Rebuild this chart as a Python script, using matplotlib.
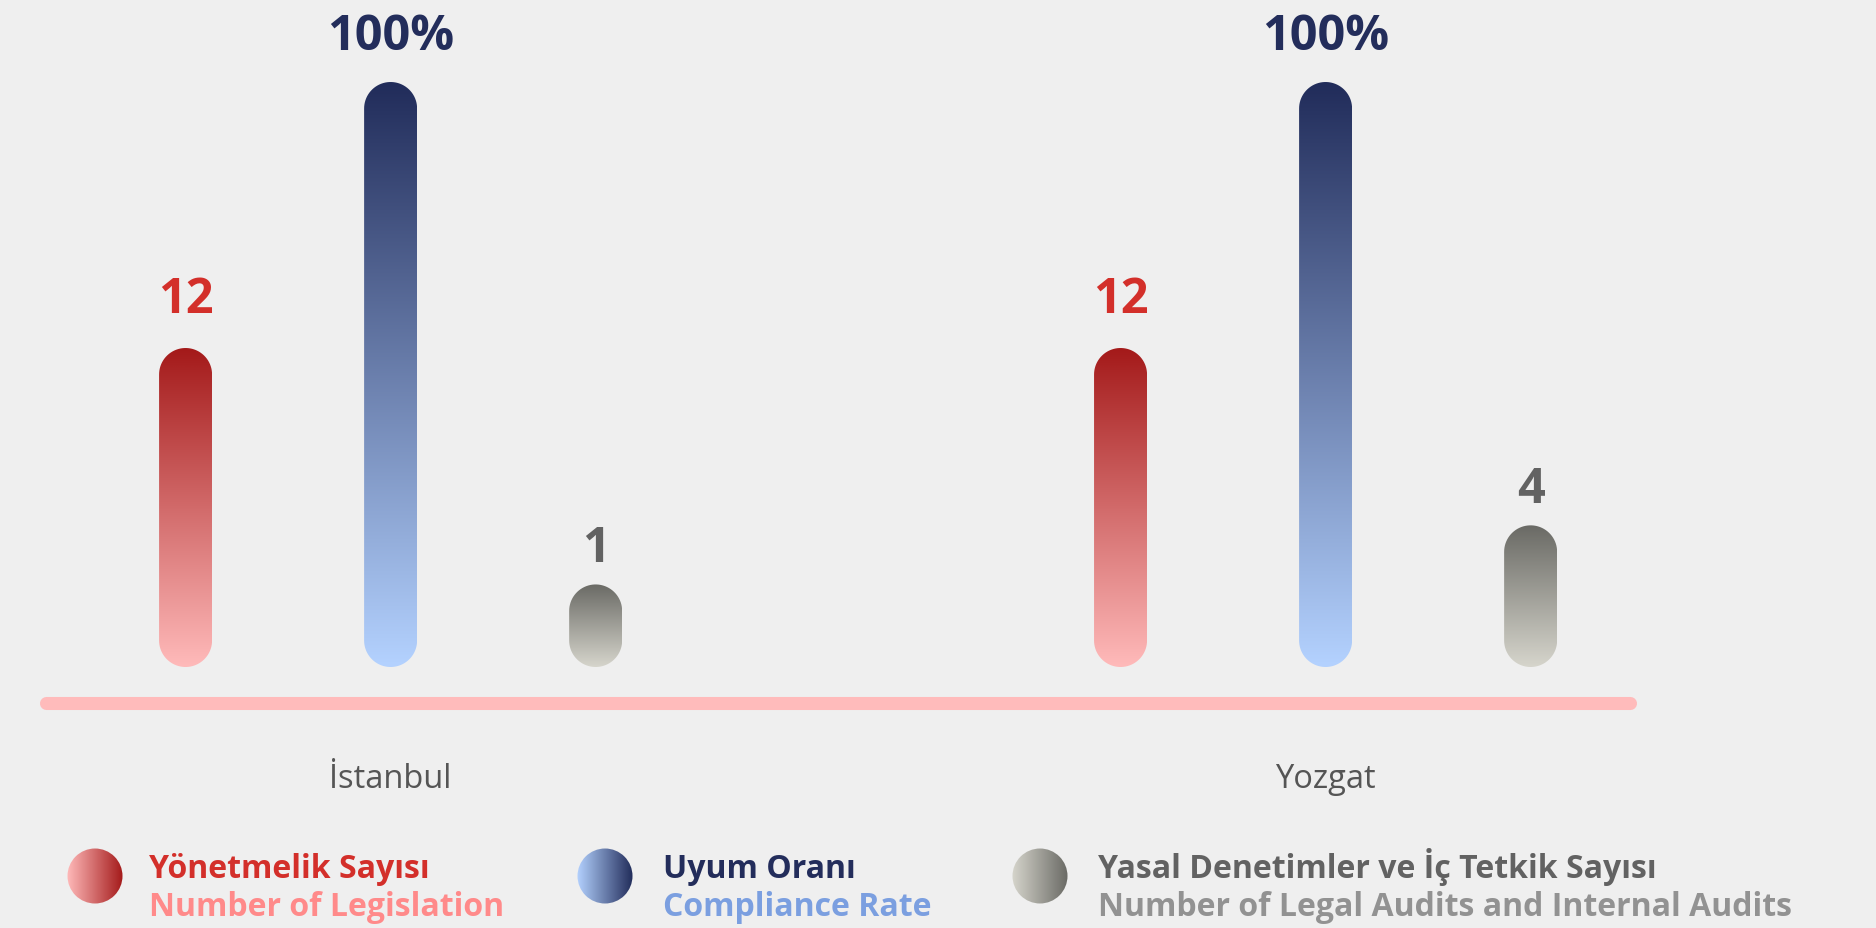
import numpy as np
import matplotlib.pyplot as plt
from matplotlib.colors import LinearSegmentedColormap
from matplotlib.patches import PathPatch, Circle
from matplotlib.path import Path

plt.rcParams['font.family'] = ['Open Sans', 'DejaVu Sans']

W, H = 1876, 929

# data
categories = ['İstanbul', 'Yozgat']
legislation = [12, 12]
compliance = [100, 100]
audits = [1, 4]

titles_tr = ['Yönetmelik Sayısı', 'Uyum Oranı', 'Yasal Denetimler ve İç Tetkik Sayısı']
titles_en = ['Number of Legislation', 'Compliance Rate', 'Number of Legal Audits and Internal Audits']
value_fmt = ['{}', '{}%', '{}']

# style
bg = '#efefef'
grad = [('#ffbaba', '#a41a1a'), ('#b4d2ff', '#212c5a'), ('#d6d5cc', '#6a6a65')]
title_col = ['#d32f2a', '#232d5b', '#626262']
sub_col = ['#ff8a8a', '#7b9fe0', '#929292']
ylims = [(0, 24), (0, 100), (-0.5, 26.5)]   # each series has its own scale
offsets = [-0.2193, 0, 0.2193]
label_gap = [36, 33, 23]   # px between bar top and value label
r = 26.5                   # half bar width in px

fig = plt.figure(figsize=(W / 100, H / 100), dpi=100, facecolor=bg)
rect = [40 / W, (H - 641.5) / H, 1596 / W, 532 / H]
axes = []
for i in range(3):
    a = fig.add_axes(rect, facecolor='none')
    a.set_xlim(-0.375, 1.332)
    a.set_ylim(*ylims[i])
    a.set_axis_off()
    axes.append(a)

# pixel overlay for the rounded gradient shapes
ov = fig.add_axes([0, 0, 1, 1], facecolor='none')
ov.set_axis_off()


def pill_path(xc, y0, y1):
    # semicircle ends at y0 and y1 (centres), straight sides between
    t1 = np.linspace(0, np.pi, 40)
    t2 = np.linspace(np.pi, 2 * np.pi, 40)
    xs = np.concatenate([xc + r * np.cos(t1), xc + r * np.cos(t2)])
    ys = np.concatenate([y1 + r * np.sin(t1), y0 + r * np.sin(t2)])
    verts = np.column_stack([xs, ys])
    verts = np.vstack([verts, verts[:1]])
    codes = [Path.MOVETO] + [Path.LINETO] * (len(verts) - 2) + [Path.CLOSEPOLY]
    return PathPatch(Path(verts, codes))


def gradient_patch(patch, x0, x1, y0, y1, colors, horizontal=False):
    patch.set_facecolor('none')
    patch.set_edgecolor('none')
    ov.add_patch(patch)
    cmap = LinearSegmentedColormap.from_list('g', colors)
    g = np.linspace(0, 1, 256)
    img = g.reshape(1, -1) if horizontal else g.reshape(-1, 1)
    im = ov.imshow(img, cmap=cmap, extent=[x0, x1, y0, y1], origin='lower',
                   aspect='auto', interpolation='bicubic')
    im.set_clip_path(patch)


series = [legislation, compliance, audits]
for i, vals in enumerate(series):
    ax = axes[i]
    for j, v in enumerate(vals):
        xp, ytop = ax.transData.transform((j + offsets[i], v))
        _, ybot = ax.transData.transform((j + offsets[i], ax.get_ylim()[0]))
        gradient_patch(pill_path(xp, ybot, ytop), xp - r, xp + r, ybot - r, ytop + r, grad[i])
        ov.annotate(value_fmt[i].format(v), (xp, ytop + r), xytext=(0, label_gap[i] * 0.72),
                    textcoords='offset points', ha='center', va='baseline',
                    fontsize=35, fontweight='bold', color=title_col[i])

# base line
axes[0].plot([0.004, 0.996], [-0.1175, -0.1175], transform=axes[0].transAxes,
             color='#ffbbbb', lw=9.4, solid_capstyle='round', clip_on=False)

# category labels
for j, c in enumerate(categories):
    axes[0].text(j, -0.2754, c, transform=axes[0].get_xaxis_transform(),
                 ha='center', va='baseline', fontsize=23.5, color='#555555')

# legend
circ_x = [95, 605, 1040]
text_x = [149, 663, 1098]
for i in range(3):
    c = Circle((circ_x[i], H - 877), 27.5)
    gradient_patch(c, circ_x[i] - 28, circ_x[i] + 28, H - 905, H - 849, grad[i], horizontal=True)
    ov.text(text_x[i], H - 878, titles_tr[i], fontsize=23, fontweight='bold',
            color=title_col[i], va='baseline')
    ov.text(text_x[i], H - 916, titles_en[i], fontsize=23, fontweight='bold',
            color=sub_col[i], va='baseline')

ov.set_xlim(0, W)
ov.set_ylim(0, H)

fig.savefig('out.png', dpi=100, facecolor=bg)
